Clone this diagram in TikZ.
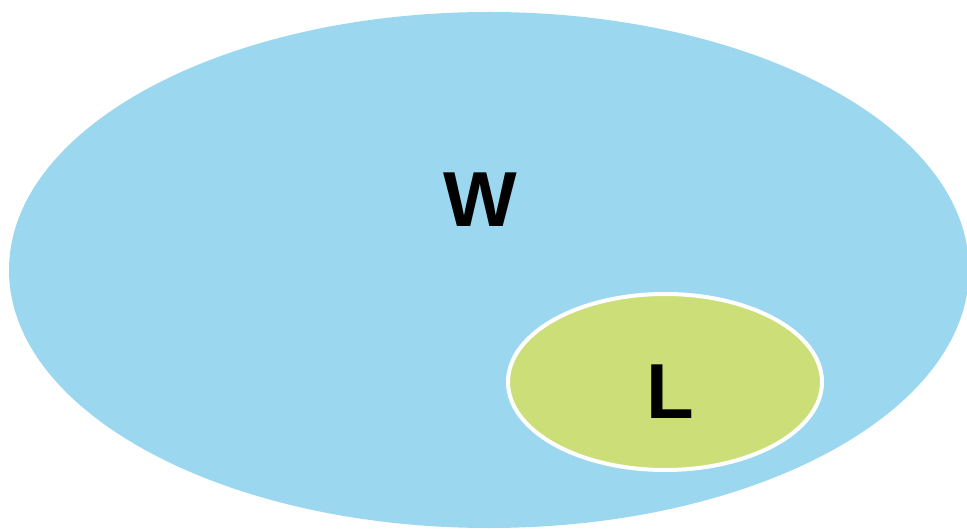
\documentclass[tikz,border=0pt]{standalone}
\usepackage{fontspec}
\setmainfont{Liberation Sans}
\definecolor{skyb}{HTML}{9CD7F0}
\definecolor{limeg}{HTML}{CCDE77}
\begin{document}
\begin{tikzpicture}[x=1pt,y=-1pt,
  lbl/.style={font=\fontsize{78}{80}\selectfont\bfseries, text=black, inner sep=0pt}]
\useasboundingbox (0,0) rectangle (967,529);
\begin{scope}
\clip (0,0) rectangle (967,529);
\fill[skyb] (489,270) ellipse [x radius=480, y radius=258];
\end{scope}
\filldraw[fill=limeg, draw=white, line width=4pt] (665,382) ellipse [x radius=157, y radius=88];
\node[lbl] (W) at (480,200) {W};
\node[lbl] (L) at (670,392) {L};
\end{tikzpicture}
\end{document}
